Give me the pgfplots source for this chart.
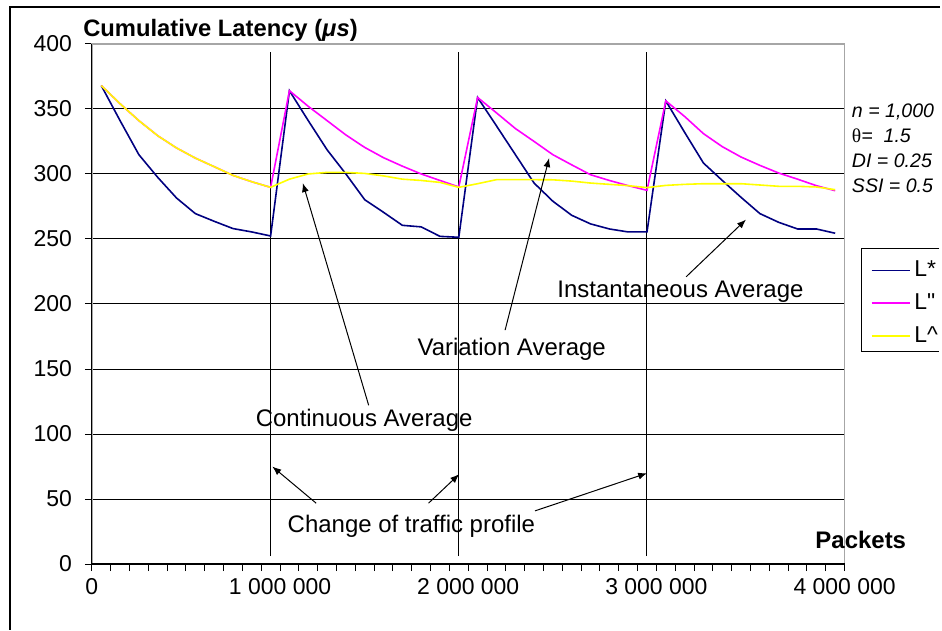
\documentclass[border=0pt]{standalone}
\usepackage{pgfplots}
\pgfplotsset{compat=1.18}
\usepackage{pgfplotstable}
\usepackage{fontspec}
\setmainfont{Liberation Sans}
\newfontfamily\seriffont{Liberation Serif}
\newfontfamily\rawsans{Liberation Sans}[Ligatures=TeXOff]
\usetikzlibrary{arrows.meta}

\definecolor{Lstar}{RGB}{0,0,128}
\definecolor{Lvar}{RGB}{255,0,255}
\definecolor{Lhat}{RGB}{255,255,0}

% x in millions of packets
\pgfplotstableread{
x     Lstar  Lvar   Lhat
0.05  368    368    368
0.15  341    354    354
0.25  314.8  341    341
0.35  297.4  329.4  329.4
0.45  281.5  320    320
0.55  269.5  312.2  312.2
0.65  263.6  305.6  305.6
0.75  258    298.9  298.9
0.85  255.4  294    294
0.95  252.3  289.7  289.7
1.05  364    364    296
1.15  341    352    300
1.25  318.6  341    301.2
1.35  300    330    301.2
1.45  280.2  320.4  300.4
1.55  270.5  312.5  298.5
1.65  260.5  306    296
1.75  259.3  300    295
1.85  252    295    293.5
1.95  251.3  290    289.7
2.05  358.8  358.8  292.5
2.15  337    347    295.6
2.25  315    335    295.6
2.35  293    325    295.6
2.45  279    314.8  295.5
2.55  268.2  307    294.5
2.65  261.6  299.4  293
2.75  257.7  295    292
2.85  255.4  291    291
2.95  255.4  287.4  289.5
3.05  356.2  356.2  291.2
3.15  332    344.2  292
3.25  308.4  331    292.5
3.35  295    321    292.5
3.45  282    313    292.5
3.55  269.5  306.6  291.5
3.65  262.8  300.7  290.5
3.75  257.7  296    290.5
3.85  257.7  291    290
3.95  254.4  287.1  287.9
}\datatable

\begin{document}
\begin{tikzpicture}
\fill[white] (0pt,0pt) rectangle (471pt,315.5pt);
% outer chart border (runs off the picture at right and bottom)
\draw[black, line width=0.6pt] (5pt,0pt) -- (5pt,312pt) -- (471pt,312pt);

\begin{axis}[
  at={(46pt,33pt)}, anchor=south west,
  scale only axis, width=377pt, height=260.5pt,
  xmin=0, xmax=4, ymin=0, ymax=400,
  clip=false,
  xtick={0,1,2,3,4},
  xticklabels={0,{1 000 000},{2 000 000},{3 000 000},{4 000 000}},
  minor x tick num=9,
  ytick={0,50,...,400},
  ymajorgrids, grid style={black, line width=0.5pt},
  tick align=outside, xtick pos=bottom, ytick pos=left,
  major tick length=3.5pt, minor tick length=3.5pt,
  tick style={black, line width=0.5pt},
  axis line style={draw=gray!70, line width=0.7pt},
  ticklabel style={font=\fontsize{11.5}{13}\selectfont},
  yticklabel style={xshift=-3pt},
  /pgf/number format/assume math mode=true,
  legend style={at={(1.0345,0.6065)}, anchor=north west, draw=none, fill=none,
    font=\fontsize{11.5}{13}\selectfont,
    row sep=3pt, inner xsep=0pt, inner ysep=4pt},
  legend cell align=left,
  legend image code/.code={\draw[#1] (0pt,0pt) -- (19pt,0pt);},
]
% change-of-profile vertical lines
\addplot[black, line width=0.5pt, forget plot] coordinates {(0.95,6) (0.95,394)};
\addplot[black, line width=0.5pt, forget plot] coordinates {(1.95,6) (1.95,394)};
\addplot[black, line width=0.5pt, forget plot] coordinates {(2.95,6) (2.95,394)};

\addplot[Lstar, line width=0.8pt] table[x=x, y=Lstar] {\datatable};
\addplot[Lvar, line width=0.8pt] table[x=x, y=Lvar] {\datatable};
\addplot[Lhat, line width=0.8pt] table[x=x, y=Lhat] {\datatable};
\legend{L*, {\rawsans L"}, L\textasciicircum}

% left and bottom axis lines in black
\draw[black, line width=0.6pt] (axis cs:0,400) -- (axis cs:0,0) -- (axis cs:4,0);

% legend frame (its right side is off the picture)
\draw[black, line width=0.5pt] (axis description cs:1.126,0.6065) -- (axis description cs:1.0225,0.6065)
  -- (axis description cs:1.0225,0.409) -- (axis description cs:1.126,0.409);

% annotations
\tikzset{ann/.style={font=\fontsize{12}{14}\selectfont, inner sep=0pt},
         arr/.style={-{Latex[length=4.5pt,width=3.5pt]}, black, line width=0.5pt}}
\node[ann] at (axis cs:1.447,110.8) {Continuous Average};
\draw[arr] (axis cs:1.471,122.1) -- (axis cs:1.121,293.0);
\node[ann] at (axis cs:2.231,165.1) {Variation Average};
\draw[arr] (axis cs:2.196,179.9) -- (axis cs:2.430,312.2);
\node[ann] at (axis cs:3.128,209.1) {Instantaneous Average};
\draw[arr] (axis cs:3.158,220.9) -- (axis cs:3.476,264.9);
\node[ann] at (axis cs:1.698,28.9) {Change of traffic profile};
\draw[arr] (axis cs:1.192,46.8) -- (axis cs:0.959,75.0);
\draw[arr] (axis cs:1.789,46.8) -- (axis cs:1.952,69.1);
\draw[arr] (axis cs:2.355,40.9) -- (axis cs:2.951,69.9);
\end{axis}

% titles
\node[anchor=base west, inner sep=0pt, font=\fontsize{11.9}{14}\selectfont\bfseries]
  at (41.5pt,297.2pt) {Cumulative Latency (\textit{μs})};
\node[anchor=east, inner sep=0pt, font=\fontsize{12}{14}\selectfont\bfseries]
  at (454pt,45pt) {Packets};

% parameter block
\begin{scope}[every node/.style={anchor=base west, inner sep=0pt, font=\fontsize{9.8}{11}\selectfont\itshape}]
\node at (426.5pt,256.5pt) {n = 1,000};
\node at (426.5pt,244.25pt) {{\upshape\seriffont θ}=\ \ 1.5};
\node at (426.5pt,231.5pt) {DI = 0.25};
\node at (426.5pt,219pt) {SSI = 0.5};
\end{scope}
\end{tikzpicture}
\end{document}
